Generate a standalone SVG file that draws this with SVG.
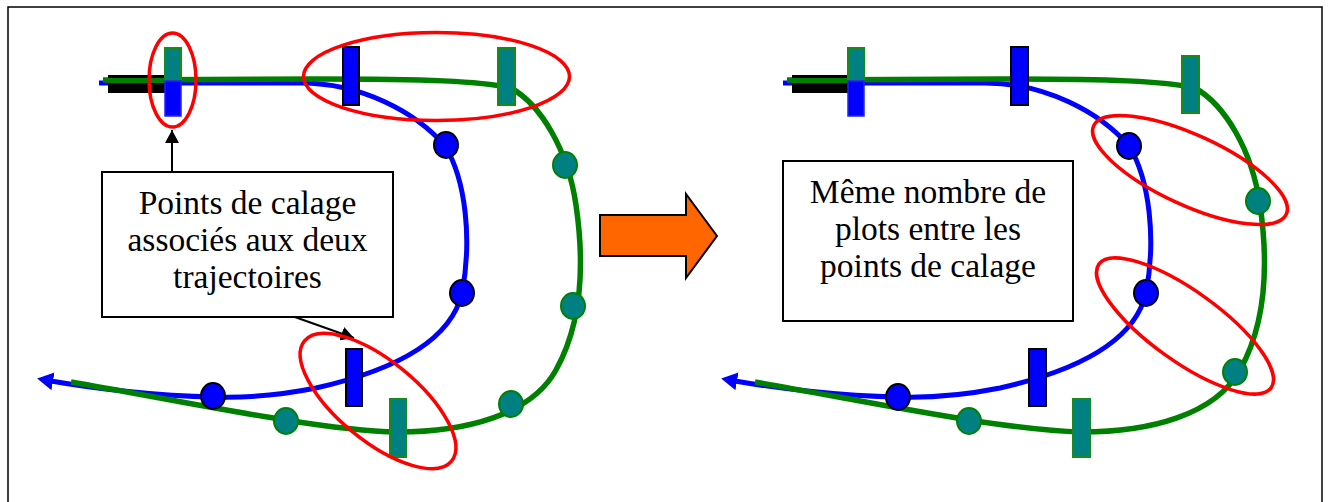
<svg xmlns="http://www.w3.org/2000/svg" xmlns:xlink="http://www.w3.org/1999/xlink" width="1330" height="502" viewBox="0 0 1330 502">
  <style>
    .frame { fill: #ffffff; stroke: #000000; stroke-width: 1.5; }
    .green-track { fill: none; stroke: #008000; stroke-width: 5.5; }
    .blue-track { fill: none; stroke: #0000ff; stroke-width: 5; }
    .ring { fill: none; stroke: #ff0000; stroke-width: 3.5; }
    .bar { fill: #000000; }
    .plot-blue { fill: #0000ff; stroke: #000000; stroke-width: 2; }
    .plot-teal { fill: #008080; stroke: #008000; stroke-width: 2; }
    .tick-blue { fill: #0000ff; stroke: #000000; stroke-width: 2; }
    .tick-teal { fill: #008080; stroke: #1a8a1a; stroke-width: 2; }
    .tick-blue-soft { fill: #0000ff; stroke: #2222ff; stroke-width: 1.5; }
    .box { fill: #ffffff; stroke: #000000; stroke-width: 2; }
    .label { font-family: "Liberation Serif", "DejaVu Serif", serif; font-size: 33.5px; fill: #000000; text-anchor: middle; }
    .pointer { fill: none; stroke: #000000; stroke-width: 2; }
    .big-arrow { fill: #ff6600; stroke: #000000; stroke-width: 2; }
  </style>
  <defs>
    <marker id="headBlack" markerWidth="14" markerHeight="14" refX="13" refY="7" orient="auto" markerUnits="userSpaceOnUse">
      <path d="M0,0 L13,7 L0,14 Z" fill="#000000"/>
    </marker>
    <marker id="headBlue" markerWidth="18" markerHeight="18" refX="2" refY="9" orient="auto" markerUnits="userSpaceOnUse">
      <path d="M0,0 L16,9 L0,18 Z" fill="#0000ff"/>
    </marker>
    <!-- shared trajectory shapes (drawn in right-panel coordinates) -->
    <path id="blueTrack" d="M783,83 L985,83 C1045,83 1100,112 1129,146 C1150,180 1156,240 1146,293 C1135,340 1080,370 1000,388 C960,396 930,398 898,397 C840,396 775,388 735,381"/>
    <path id="greenTrack" d="M787,80 L1000,79 C1110,79 1165,81 1195,88 C1225,105 1252,150 1260,205 C1268,260 1268,320 1240,370 C1215,415 1150,432 1081,432 C1000,430 860,400 755,382"/>
  </defs>

  <rect class="frame" x="8" y="7" width="1314" height="500"/>

  <!-- connectors: trajectories and pointers -->
  <g id="connectors">
    <g id="tracks-left" transform="translate(-684,0)">
      <use xlink:href="#blueTrack" class="blue-track" marker-end="url(#headBlue)"/>
      <use xlink:href="#greenTrack" class="green-track"/>
    </g>
    <g id="tracks-right">
      <use xlink:href="#blueTrack" class="blue-track" marker-end="url(#headBlue)"/>
      <use xlink:href="#greenTrack" class="green-track"/>
    </g>
    <line class="pointer" x1="172" y1="173" x2="172" y2="130" marker-end="url(#headBlack)"/>
    <line class="pointer" x1="292" y1="316" x2="354" y2="338" marker-end="url(#headBlack)"/>
  </g>

  <!-- left panel: start bar and plots -->
  <g id="left-start">
    <rect class="bar" x="108" y="75" width="57" height="18"/>
    <rect x="108" y="78" width="57" height="5" fill="#008000"/>
    <rect class="tick-teal" x="165" y="48" width="16" height="32"/>
    <rect class="tick-blue-soft" x="165" y="81" width="16" height="35"/>
  </g>
  <g id="left-plots">
    <rect class="tick-blue" x="343" y="47" width="16" height="58"/>
    <rect class="tick-teal" x="498" y="48" width="17" height="57"/>
    <ellipse class="plot-blue" cx="446" cy="145" rx="12" ry="13"/>
    <ellipse class="plot-blue" cx="462" cy="293" rx="12" ry="13"/>
    <ellipse class="plot-blue" cx="213" cy="396" rx="12" ry="13"/>
    <rect class="tick-blue" x="346" y="349" width="16" height="57"/>
    <ellipse class="plot-teal" cx="565" cy="165" rx="12" ry="13"/>
    <ellipse class="plot-teal" cx="573" cy="306" rx="12" ry="13"/>
    <ellipse class="plot-teal" cx="511" cy="404" rx="12" ry="13"/>
    <ellipse class="plot-teal" cx="286" cy="421" rx="12" ry="13"/>
    <rect class="tick-teal" x="390" y="399" width="16" height="58"/>
  </g>
  <g id="left-rings">
    <ellipse class="ring" cx="172.5" cy="80" rx="23.5" ry="47"/>
    <ellipse class="ring" cx="436.5" cy="76.5" rx="133" ry="44"/>
    <ellipse class="ring" cx="378" cy="401" rx="95" ry="40" transform="rotate(39.3 378 401)"/>
  </g>

  <!-- left caption -->
  <g id="left-caption">
    <rect class="box" x="102" y="172" width="291" height="145"/>
    <text class="label" x="247.5" y="214">Points de calage</text>
    <text class="label" x="247.5" y="251">associés aux deux</text>
    <text class="label" x="247.5" y="288">trajectoires</text>
  </g>

  <!-- transition arrow -->
  <g id="transition">
    <path class="big-arrow" d="M600,215 L686,215 L686,194 L717,236 L686,278 L686,256 L600,256 Z"/>
  </g>

  <!-- right panel: start bar and plots -->
  <g id="right-start">
    <rect class="bar" x="792" y="75" width="56" height="18"/>
    <rect x="792" y="78" width="56" height="5" fill="#008000"/>
    <rect class="tick-teal" x="848" y="48" width="16" height="32"/>
    <rect class="tick-blue-soft" x="848" y="81" width="16" height="35"/>
  </g>
  <g id="right-plots">
    <rect class="tick-blue" x="1011" y="47" width="17" height="58"/>
    <rect class="tick-teal" x="1182" y="56" width="17" height="57"/>
    <ellipse class="plot-blue" cx="1129" cy="146" rx="12" ry="13"/>
    <ellipse class="plot-blue" cx="1146" cy="293" rx="12" ry="13"/>
    <ellipse class="plot-blue" cx="898" cy="397" rx="12" ry="13"/>
    <rect class="tick-blue" x="1029" y="349" width="17" height="57"/>
    <ellipse class="plot-teal" cx="1258" cy="201" rx="12" ry="13"/>
    <ellipse class="plot-teal" cx="1235" cy="372" rx="12" ry="13"/>
    <ellipse class="plot-teal" cx="969" cy="421" rx="12" ry="13"/>
    <rect class="tick-teal" x="1073" y="399" width="17" height="58"/>
  </g>
  <g id="right-rings">
    <ellipse class="ring" cx="1190" cy="170" rx="106" ry="35" transform="rotate(24.7 1190 170)"/>
    <ellipse class="ring" cx="1185" cy="326" rx="106" ry="35" transform="rotate(35.7 1185 326)"/>
  </g>

  <!-- right caption -->
  <g id="right-caption">
    <rect class="box" x="783" y="161" width="290" height="160"/>
    <text class="label" x="928" y="203">Même nombre de</text>
    <text class="label" x="928" y="240">plots entre les</text>
    <text class="label" x="928" y="277">points de calage</text>
  </g>
</svg>
